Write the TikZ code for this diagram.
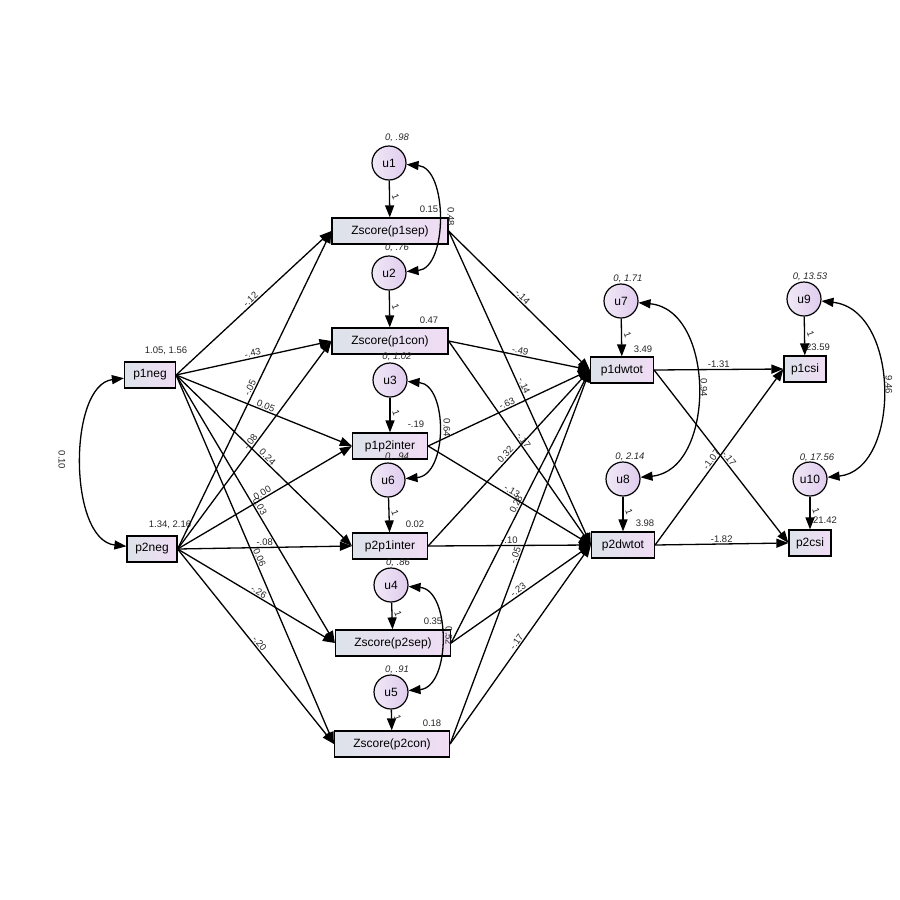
\documentclass[tikz,border=0pt]{standalone}
\usepackage{fontspec}
\setmainfont{Liberation Sans}
\usetikzlibrary{arrows.meta}

\definecolor{boxleft}{HTML}{DDE3EA}
\definecolor{boxright}{HTML}{F0DCF4}
\definecolor{errleft}{HTML}{F0E8F6}
\definecolor{errright}{HTML}{E0CCEE}

\begin{document}
\begin{tikzpicture}[x=1pt, y=-1pt,
        obs/.style = {
            rectangle,
            draw,
            line width=1.2pt,
            left color=boxleft,
            right color=boxright,
            minimum height=26pt,
            inner sep=0pt,
            font=\fontsize{12}{14}\selectfont
        },
        err/.style = {
            circle,
            draw,
            line width=1.2pt,
            left color=errleft,
            right color=errright,
            minimum size=34pt,
            inner sep=0pt,
            font=\fontsize{12}{14}\selectfont
        },
        reg/.style = {-{Triangle[length=12pt, width=9pt]}, line width=1.3pt},
        cov/.style = {{Triangle[length=12pt, width=9pt]}-{Triangle[length=12pt, width=9pt]}, line width=1.3pt},
        est/.style = {font=\fontsize{9.5}{11}\selectfont, text=black!85, inner sep=1pt},
        var/.style = {font=\fontsize{9.5}{11}\selectfont\itshape, text=black!85, inner sep=1pt},
        one/.style = {font=\fontsize{9.5}{10}\selectfont, text=black!85, rotate=-70, anchor=south, inner sep=2.5pt}]

        \useasboundingbox (0,0) rectangle (900,900);

        % exogenous
        \node (p1neg) [obs, minimum width=51pt] at (150,375) {p1neg};
        \node (p2neg) [obs, minimum width=50pt] at (152,549) {p2neg};

        % mediators
        \node (zp1sep) [obs, minimum width=116pt] at (390,231) {Zscore(p1sep)};
        \node (zp1con) [obs, minimum width=116pt] at (390,341) {Zscore(p1con)};
        \node (p1p2inter) [obs, minimum width=75pt] at (390,446) {p1p2inter};
        \node (p2p1inter) [obs, minimum width=75pt] at (390,546) {p2p1inter};
        \node (zp2sep) [obs, minimum width=115pt] at (393,643) {Zscore(p2sep)};
        \node (zp2con) [obs, minimum width=115pt] at (392,744) {Zscore(p2con)};

        \node (u1) [err] at (389,163) {u1};
        \node (u2) [err] at (389,273) {u2};
        \node (u3) [err] at (390,380) {u3};
        \node (u6) [err] at (388,480) {u6};
        \node (u4) [err] at (391,585) {u4};
        \node (u5) [err] at (391,692) {u5};

        % outcomes
        \node (p1dwtot) [obs, minimum width=63pt] at (622,370) {p1dwtot};
        \node (p2dwtot) [obs, minimum width=63pt] at (623,545) {p2dwtot};
        \node (p1csi) [obs, minimum width=42pt] at (805,369) {p1csi};
        \node (p2csi) [obs, minimum width=42pt] at (810,543) {p2csi};

        \node (u7) [err] at (621,301) {u7};
        \node (u8) [err] at (623,479) {u8};
        \node (u9) [err] at (804,299) {u9};
        \node (u10) [err] at (810,479) {u10};

        % means, variances, intercepts
        \node (m_p1neg) [est] at (166,351) {1.05, 1.56};
        \node (m_p2neg) [est] at (170,525) {1.34, 2.16};
        \node (i_zp1sep) [est] at (429,209) {0.15};
        \node (i_zp1con) [est] at (429,320) {0.47};
        \node (i_p1p2inter) [est] at (416,424) {-.19};
        \node (i_p2p1inter) [est] at (415,524) {0.02};
        \node (i_zp2sep) [est] at (433,621) {0.35};
        \node (i_zp2con) [est] at (432,723) {0.18};
        \node (i_p1dwtot) [est] at (643,349) {3.49};
        \node (i_p2dwtot) [est] at (645,523) {3.98};
        \node (i_p1csi) [est] at (818,347) {23.59};
        \node (i_p2csi) [est] at (825,520) {21.42};

        \node (v_u1) [var] at (397,138) {0, .98};
        \node (v_u2) [var] at (397,248) {0, .76};
        \node (v_u3) [var] at (397,357) {0, 1.02};
        \node (v_u6) [var] at (397,457) {0, .94};
        \node (v_u4) [var] at (398,563) {0, .86};
        \node (v_u5) [var] at (397,670) {0, .91};
        \node (v_u7) [var] at (628,279) {0, 1.71};
        \node (v_u8) [var] at (630,457) {0, 2.14};
        \node (v_u9) [var] at (810,277) {0, 13.53};
        \node (v_u10) [var] at (817,458) {0, 17.56};

        % error terms
        \draw[reg] (u1) -- node[one, midway] {1} (zp1sep);
        \draw[reg] (u2) -- node[one, midway] {1} (zp1con);
        \draw[reg] (u3) -- node[one, midway] {1} (p1p2inter);
        \draw[reg] (u6) -- node[one, midway] {1} (p2p1inter);
        \draw[reg] (u4) -- node[one, midway] {1} (zp2sep);
        \draw[reg] (u5) -- node[one, midway] {1} (zp2con);
        \draw[reg] (u7) -- node[one, midway] {1} (p1dwtot);
        \draw[reg] (u8) -- node[one, midway] {1} (p2dwtot);
        \draw[reg] (u9) -- node[one, midway] {1} (p1csi);
        \draw[reg] (u10) -- node[one, midway] {1} (p2csi);

        % covariances
        \draw[cov] (p1neg) .. controls (68,385) and (68,540) .. (p2neg);
        \draw[cov] (u1) .. controls (448,168) and (448,268) .. (u2);
        \draw[cov] (u3) .. controls (448,385) and (448,475) .. (u6);
        \draw[cov] (u4) .. controls (451,590) and (451,687) .. (u5);
        \draw[cov] (u7) .. controls (716,310) and (716,470) .. (u8);
        \draw[cov] (u9) .. controls (901,310) and (901,470) .. (u10);

        \node (c_neg) [est, rotate=-90] at (62,460) {0.10};
        \node (c_u1u2) [est, rotate=-90] at (451,217) {0.48};
        \node (c_u3u6) [est, rotate=-90] at (447,428) {0.64};
        \node (c_u4u5) [est, rotate=-90] at (449,636) {0.52};
        \node (c_u7u8) [est, rotate=-90] at (704,388) {0.94};
        \node (c_u9u10) [est, rotate=-90] at (889,385) {9.46};

        % p1neg paths
        \draw[reg] (p1neg.east) -- node[est, midway, sloped, above] {-.12} (zp1sep.west);
        \draw[reg] (p1neg.east) -- node[est, midway, sloped, above] {-.43} (zp1con.west);
        \draw[reg] (p1neg.east) -- node[est, midway, sloped, above] {0.05} (p1p2inter.west);
        \draw[reg] (p1neg.east) -- node[est, midway, sloped, above] {0.24} (p2p1inter.west);
        \draw[reg] (p1neg.east) -- node[est, midway, sloped, above] {0.03} (zp2sep.west);
        \draw[reg] (p1neg.east) -- node[est, midway, sloped, above] {0.06} (zp2con.west);

        % p2neg paths
        \draw[reg] (p2neg.east) -- node[est, midway, sloped, above] {-.05} (zp1sep.west);
        \draw[reg] (p2neg.east) -- node[est, midway, sloped, above] {-.08} (zp1con.west);
        \draw[reg] (p2neg.east) -- node[est, midway, sloped, above] {0.00} (p1p2inter.west);
        \draw[reg] (p2neg.east) -- node[est, midway, sloped, above] {-.08} (p2p1inter.west);
        \draw[reg] (p2neg.east) -- node[est, midway, sloped, above] {-.26} (zp2sep.west);
        \draw[reg] (p2neg.east) -- node[est, midway, sloped, above] {-.20} (zp2con.west);

        % mediators to dwtot
        \draw[reg] (zp1sep.east) -- node[est, midway, sloped, above] {-.14} (p1dwtot.west);
        \draw[reg] (zp1sep.east) -- node[est, midway, sloped, above] {-.14} (p2dwtot.west);
        \draw[reg] (zp1con.east) -- node[est, midway, sloped, above] {-.49} (p1dwtot.west);
        \draw[reg] (zp1con.east) -- node[est, midway, sloped, above] {-.17} (p2dwtot.west);
        \draw[reg] (p1p2inter.east) -- node[est, midway, sloped, above] {-.63} (p1dwtot.west);
        \draw[reg] (p1p2inter.east) -- node[est, midway, sloped, above] {-.13} (p2dwtot.west);
        \draw[reg] (p2p1inter.east) -- node[est, midway, sloped, above] {0.32} (p1dwtot.west);
        \draw[reg] (p2p1inter.east) -- node[est, midway, sloped, above] {-.10} (p2dwtot.west);
        \draw[reg] (zp2sep.east) -- node[est, midway, sloped, above] {0.28} (p1dwtot.west);
        \draw[reg] (zp2sep.east) -- node[est, midway, sloped, above] {-.23} (p2dwtot.west);
        \draw[reg] (zp2con.east) -- node[est, midway, sloped, above] {-.05} (p1dwtot.west);
        \draw[reg] (zp2con.east) -- node[est, midway, sloped, above] {-.17} (p2dwtot.west);

        % dwtot to csi
        \draw[reg] (p1dwtot.east) -- node[est, midway, sloped, above] {-1.31} (p1csi.west);
        \draw[reg] (p1dwtot.east) -- node[est, pos=0.53, sloped, above] {-.17} (p2csi.west);
        \draw[reg] (p2dwtot.east) -- node[est, pos=0.47, sloped, above] {-1.07} (p1csi.west);
        \draw[reg] (p2dwtot.east) -- node[est, midway, sloped, above] {-1.82} (p2csi.west);
    \end{tikzpicture}
\end{document}
